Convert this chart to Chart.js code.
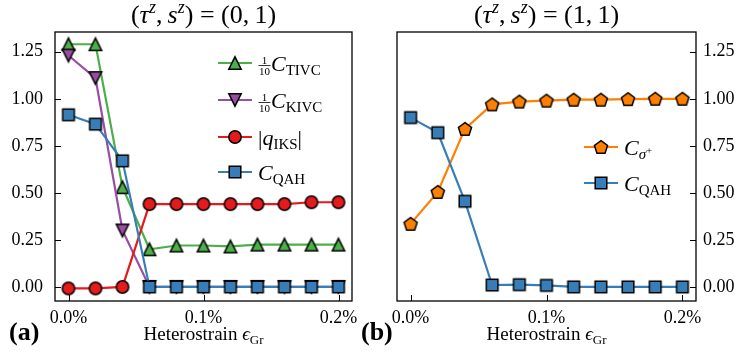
<!DOCTYPE html>
<html>
<head>
<meta charset="utf-8">
<script src="https://cdn.jsdelivr.net/npm/chart.js@4.4.1/dist/chart.umd.min.js"></script>
<style>
  html, body { margin: 0; padding: 0; background: #fff; }
  #wrap { position: relative; width: 740px; height: 356px; }
  #wrap canvas { position: absolute; left: 0; top: 0; }
</style>
</head>
<body>
<div id="wrap">
  <canvas id="panelA" width="740" height="356"></canvas>
  <canvas id="panelB" width="740" height="356"></canvas>
</div>
<script>
// heterostrain values (in %)
const strain = [0, 0.02, 0.04, 0.06, 0.08, 0.10, 0.12, 0.14, 0.16, 0.18, 0.20];

// panel (a): (tau^z, s^z) = (0, 1)
const cTivcA = [1.29, 1.29, 0.53, 0.20, 0.22, 0.22, 0.215, 0.225, 0.225, 0.225, 0.225];
const cKivcA = [1.23, 1.11, 0.30, 0.0, 0.0, 0.0, 0.0, 0.0, 0.0, 0.0, 0.0];
const qIksA  = [-0.008, -0.008, 0.0, 0.44, 0.44, 0.44, 0.44, 0.44, 0.44, 0.45, 0.45];
const cQahA  = [0.915, 0.865, 0.67, 0.0, 0.0, 0.0, 0.0, 0.0, 0.0, 0.0, 0.0];

// panel (b): (tau^z, s^z) = (1, 1)
const cSigmaB = [0.335, 0.505, 0.84, 0.97, 0.985, 0.99, 0.995, 0.995, 0.998, 1.0, 1.0];
const cQahB   = [0.90, 0.82, 0.455, 0.01, 0.012, 0.008, 0.0, 0.0, 0.0, 0.0, 0.0];

// axis ticks
const xTickVals = [0, 0.1, 0.2];
const xTickLabels = ['0.0%', '0.1%', '0.2%'];
const yTickVals = [0, 0.25, 0.5, 0.75, 1.0, 1.25];
const yTickLabels = ['0.00', '0.25', '0.50', '0.75', '1.00', '1.25'];

const SERIF = '"Liberation Serif", "Times New Roman", serif';
const R = px => `${px}px ${SERIF}`;
const I = px => `italic ${px}px ${SERIF}`;
const B = px => `bold ${px}px ${SERIF}`;

const GREEN = '#4daf4a', PURPLE = '#984ea3', RED = '#e41a1c', BLUE = '#377eb8', ORANGE = '#ff7f00';

// matplotlib-like markers as small canvases
function makeMarker(shape, fill) {
  const c = document.createElement('canvas');
  c.width = c.height = 18;
  const g = c.getContext('2d');
  const m = 9, h = 6.2;
  g.beginPath();
  if (shape === 'up') {
    g.moveTo(m, m - h); g.lineTo(m + h, m + h); g.lineTo(m - h, m + h); g.closePath();
  } else if (shape === 'down') {
    g.moveTo(m, m + h); g.lineTo(m + h, m - h); g.lineTo(m - h, m - h); g.closePath();
  } else if (shape === 'square') {
    g.rect(m - h + 0.4, m - h + 0.4, 2 * h - 0.8, 2 * h - 0.8);
  } else if (shape === 'circle') {
    g.arc(m, m, h, 0, Math.PI * 2);
  } else if (shape === 'pentagon') {
    const r = 6.9;
    for (let k = 0; k < 5; k++) {
      const a = -Math.PI / 2 + k * 2 * Math.PI / 5;
      const px = m + r * Math.cos(a), py = m + 0.6 + r * Math.sin(a);
      if (k === 0) g.moveTo(px, py); else g.lineTo(px, py);
    }
    g.closePath();
  }
  g.fillStyle = fill;
  g.fill();
  g.lineWidth = 1.5;
  g.strokeStyle = '#000';
  g.lineJoin = 'miter';
  g.stroke();
  return c;
}

const mk = {
  tivc: makeMarker('up', GREEN),
  kivc: makeMarker('down', PURPLE),
  q: makeMarker('circle', RED),
  qahA: makeMarker('square', BLUE),
  sigma: makeMarker('pentagon', ORANGE),
  qahB: makeMarker('square', BLUE)
};

// draw a row of text runs (mathtext-like); run = {t, f, dy} or {frac:[num, den], f}
function runsWidth(ctx, runs) {
  let w = 0;
  for (const r of runs) {
    ctx.font = r.f;
    if (r.frac) w += Math.max(ctx.measureText(r.frac[0]).width, ctx.measureText(r.frac[1]).width) + 2;
    else w += ctx.measureText(r.t).width;
  }
  return w;
}
function drawRuns(ctx, runs, x, y, align) {
  let cx = x;
  if (align === 'center') cx = x - runsWidth(ctx, runs) / 2;
  ctx.fillStyle = '#000';
  ctx.textBaseline = 'alphabetic';
  ctx.textAlign = 'left';
  for (const r of runs) {
    ctx.font = r.f;
    if (r.frac) {
      const wn = ctx.measureText(r.frac[0]).width, wd = ctx.measureText(r.frac[1]).width;
      const w = Math.max(wn, wd);
      const bar = y - 5.5;
      ctx.fillText(r.frac[0], cx + 1 + (w - wn) / 2, bar - 1.5);
      ctx.fillText(r.frac[1], cx + 1 + (w - wd) / 2, bar + 9);
      ctx.beginPath();
      ctx.moveTo(cx + 0.5, bar); ctx.lineTo(cx + w + 1.5, bar);
      ctx.lineWidth = 0.8; ctx.strokeStyle = '#000'; ctx.stroke();
      cx += w + 2;
    } else {
      ctx.fillText(r.t, cx, y + (r.dy || 0));
      cx += ctx.measureText(r.t).width;
    }
  }
}

function titleRuns(a, b) {
  return [
    { t: '(', f: R(26) }, { t: 'τ', f: I(26) }, { t: 'z', f: I(18), dy: -10 },
    { t: ',\u2009', f: R(26) }, { t: 's', f: I(26) }, { t: 'z', f: I(18), dy: -10 },
    { t: ') = (' + a + ',\u2009' + b + ')', f: R(26) }
  ];
}
const xLabelRuns = [
  { t: 'Heterostrain ', f: R(19) }, { t: 'ϵ', f: I(19) }, { t: 'Gr', f: R(13), dy: 4 }
];

// box, inward ticks, title, legend, labels
const decoPlugin = {
  id: 'deco',
  afterDatasetsDraw(chart, args, o) {
    const { ctx, chartArea: a, scales: { x, y } } = chart;
    ctx.save();
    ctx.strokeStyle = '#000';
    ctx.lineWidth = 1.3;
    ctx.strokeRect(a.left, a.top, a.right - a.left, a.bottom - a.top);
    ctx.beginPath();
    for (const v of xTickVals) {
      const px = Math.round(x.getPixelForValue(v)) + 0.5;
      ctx.moveTo(px, a.bottom); ctx.lineTo(px, a.bottom - 6);
    }
    for (const v of yTickVals) {
      const py = Math.round(y.getPixelForValue(v)) + 0.5;
      if (o.side === 'left') { ctx.moveTo(a.left, py); ctx.lineTo(a.left + 6, py); }
      else { ctx.moveTo(a.right, py); ctx.lineTo(a.right - 6, py); }
    }
    ctx.lineWidth = 1;
    ctx.stroke();

    const mid = (a.left + a.right) / 2;
    drawRuns(ctx, o.title, mid, 23, 'center');
    drawRuns(ctx, xLabelRuns, mid, 340, 'center');
    ctx.font = B(26);
    ctx.fillStyle = '#000';
    ctx.textAlign = 'left';
    ctx.fillText(o.panel, o.panelX, 340);

    // legend
    const L = o.legend;
    L.rows.forEach((row, i) => {
      const ry = L.y[i];
      ctx.beginPath();
      ctx.moveTo(L.x0, ry); ctx.lineTo(L.x0 + 34, ry);
      ctx.strokeStyle = row.color; ctx.lineWidth = 2.2; ctx.stroke();
      ctx.drawImage(row.marker, L.x0 + 17 - 9, ry - 9);
      drawRuns(ctx, row.runs, L.x0 + 40, ry + 8, 'left');
    });
    ctx.restore();
  }
};

function series(data, color, marker, order) {
  return {
    data: data.map((v, i) => ({ x: strain[i], y: v })),
    borderColor: color,
    backgroundColor: color,
    borderWidth: 2.2,
    pointStyle: marker,
    pointRadius: 6,
    pointHoverRadius: 6,
    tension: 0,
    clip: false,
    order: order
  };
}

function scalesFor(side) {
  return {
    x: {
      type: 'linear', min: -0.01, max: 0.21,
      grid: { display: false, drawTicks: false }, border: { display: false },
      afterBuildTicks: s => { s.ticks = xTickVals.map(v => ({ value: v })); },
      afterFit: s => { s.height = 55; },
      ticks: {
        autoSkip: false, maxRotation: 0, minRotation: 0, padding: 6, color: '#000',
        font: { family: SERIF, size: 18 },
        callback: (v, i) => xTickLabels[i]
      }
    },
    y: {
      type: 'linear', position: side, min: -0.075, max: 1.355,
      grid: { display: false, drawTicks: false }, border: { display: false },
      afterBuildTicks: s => { s.ticks = yTickVals.map(v => ({ value: v })); },
      afterFit: s => { s.width = side === 'left' ? 55 : 44; },
      ticks: {
        autoSkip: false, padding: side === 'left' ? 12 : 7, color: '#000',
        font: { family: SERIF, size: 18 },
        callback: (v, i) => yTickLabels[i]
      }
    }
  };
}

new Chart(document.getElementById('panelA'), {
  type: 'line',
  data: {
    datasets: [
      series(cTivcA, GREEN, mk.tivc, 4),
      series(cKivcA, PURPLE, mk.kivc, 3),
      series(qIksA, RED, mk.q, 2),
      series(cQahA, BLUE, mk.qahA, 1)
    ]
  },
  options: {
    responsive: false, animation: false, events: [], devicePixelRatio: 1,
    layout: { padding: { top: 32, left: 0, right: 388, bottom: 0 } },
    scales: scalesFor('left'),
    plugins: {
      legend: { display: false }, tooltip: { enabled: false },
      deco: {
        side: 'left', title: titleRuns(0, 1), panel: '(a)', panelX: 9,
        legend: {
          x0: 218, y: [63, 100, 137, 172],
          rows: [
            { color: GREEN, marker: mk.tivc, runs: [{ frac: ['1', '10'], f: R(11) }, { t: 'C', f: I(22) }, { t: 'TIVC', f: R(15), dy: 4 }] },
            { color: PURPLE, marker: mk.kivc, runs: [{ frac: ['1', '10'], f: R(11) }, { t: 'C', f: I(22) }, { t: 'KIVC', f: R(15), dy: 4 }] },
            { color: RED, marker: mk.q, runs: [{ t: '|', f: R(22) }, { t: 'q', f: I(22) }, { t: 'IKS', f: R(15), dy: 4 }, { t: '|', f: R(22) }] },
            { color: BLUE, marker: mk.qahA, runs: [{ t: 'C', f: I(22) }, { t: 'QAH', f: R(15), dy: 4 }] }
          ]
        }
      }
    }
  },
  plugins: [decoPlugin]
});

new Chart(document.getElementById('panelB'), {
  type: 'line',
  data: {
    datasets: [
      series(cSigmaB, ORANGE, mk.sigma, 2),
      series(cQahB, BLUE, mk.qahB, 1)
    ]
  },
  options: {
    responsive: false, animation: false, events: [], devicePixelRatio: 1,
    layout: { padding: { top: 32, left: 397, right: 0, bottom: 0 } },
    scales: scalesFor('right'),
    plugins: {
      legend: { display: false }, tooltip: { enabled: false },
      deco: {
        side: 'right', title: titleRuns(1, 1), panel: '(b)', panelX: 361,
        legend: {
          x0: 584, y: [147, 183],
          rows: [
            { color: ORANGE, marker: mk.sigma, runs: [{ t: 'C', f: I(22) }, { t: 'σ', f: I(15), dy: 4 }, { t: '+', f: R(11), dy: -1 }] },
            { color: BLUE, marker: mk.qahB, runs: [{ t: 'C', f: I(22) }, { t: 'QAH', f: R(15), dy: 4 }] }
          ]
        }
      }
    }
  },
  plugins: [decoPlugin]
});
</script>
</body>
</html>
